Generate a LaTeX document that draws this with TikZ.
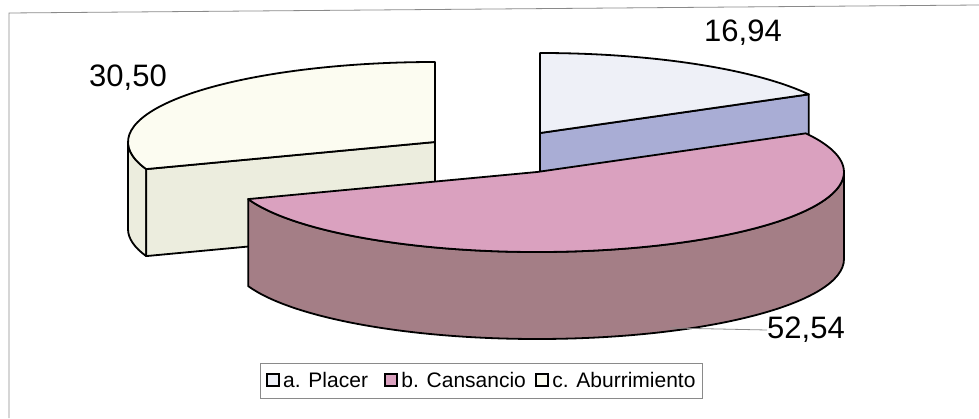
\documentclass[tikz,border=0pt]{standalone}
\usepackage{fontspec}
\setmainfont{Liberation Sans}
\usetikzlibrary{calc,positioning}

\definecolor{placertop}{HTML}{EEF0F7}
\definecolor{placerside}{HTML}{A9ADD5}
\definecolor{canstop}{HTML}{DAA1BF}
\definecolor{cansside}{HTML}{A47E86}
\definecolor{aburtop}{HTML}{FCFCF1}
\definecolor{aburside}{HTML}{ECEDDE}
\definecolor{framegray}{HTML}{8A8A8A}

\tikzset{
  slice/.style={draw=black, line width=1.8pt, line join=round},
  vallabel/.style={inner sep=0pt, font=\fontsize{31}{36}\selectfont},
  keybox/.style={draw=black, line width=2pt, minimum size=12pt, inner sep=0pt},
  keytext/.style={inner sep=0pt, font=\fontsize{21}{25}\selectfont}
}

\begin{document}
\begin{tikzpicture}[x=1pt,y=1pt]
  \useasboundingbox (0,0) rectangle (979,418);
  \draw[framegray, line width=0.8pt] (9,0) -- (9,405) -- (979,413);
  % pie centres
  \coordinate (cA) at (435,276);
  \coordinate (pQ) at (540,285);
  \coordinate (kP) at (537,246);
  % c. Aburrimiento
  \filldraw[slice, fill=aburside] ($(cA)+(180:307 and 80)$) arc[start angle=180, end angle=199.8, x radius=307, y radius=80] -- ++(0,-87) arc[start angle=199.8, end angle=180, x radius=307, y radius=80] -- cycle;
  \filldraw[slice, fill=aburside] (cA) -- ($(cA)+(199.8:307 and 80)$) -- ++(0,-87) -- ($(cA)+(0,-87)$) -- cycle;
  \filldraw[slice, fill=aburtop] (cA) -- ($(cA)+(90:307 and 80)$) arc[start angle=90, end angle=199.8, x radius=307, y radius=80] -- cycle;
  % a. Placer
  \filldraw[slice, fill=placerside] (pQ) -- ($(pQ)+(28.9:307 and 80)$) -- ++(0,-87) -- ($(pQ)+(0,-87)$) -- cycle;
  \filldraw[slice, fill=placertop] (pQ) -- ($(pQ)+(28.9:307 and 80)$) arc[start angle=28.9, end angle=90, x radius=307, y radius=80] -- cycle;
  % b. Cansancio
  \filldraw[slice, fill=cansside] ($(kP)+(199.8:307 and 80)$) arc[start angle=199.8, end angle=360, x radius=307, y radius=80] -- ++(0,-87) arc[start angle=360, end angle=199.8, x radius=307, y radius=80] -- cycle;
  \filldraw[slice, fill=canstop] (kP) -- ($(kP)+(199.8:307 and 80)$) arc[start angle=199.8, end angle=388.9, x radius=307, y radius=80] -- cycle;
  % values
  \node[vallabel] (vabur) at (128,340) {30,50};
  \node[vallabel] (vplac) at (743,385) {16,94};
  \node[vallabel] (vcans) at (806,88) {52,54};
  \coordinate (tcans) at (670,90);
  \draw[framegray, line width=0.8pt] (tcans) -- (vcans.west);
  % legend
  \draw[framegray, line width=0.8pt] (260,20) rectangle (702,55);
  \node[keybox, fill=placertop] (ka) at (273,38) {};
  \node[keytext, right=3pt of ka] (ta) {a. Placer};
  \node[keybox, fill=canstop, right=16pt of ta] (kb) {};
  \node[keytext, right=3pt of kb] (tb) {b. Cansancio};
  \node[keybox, fill=aburtop, right=9pt of tb] (kc) {};
  \node[keytext, right=3pt of kc] (tc) {c. Aburrimiento};
\end{tikzpicture}
\end{document}
